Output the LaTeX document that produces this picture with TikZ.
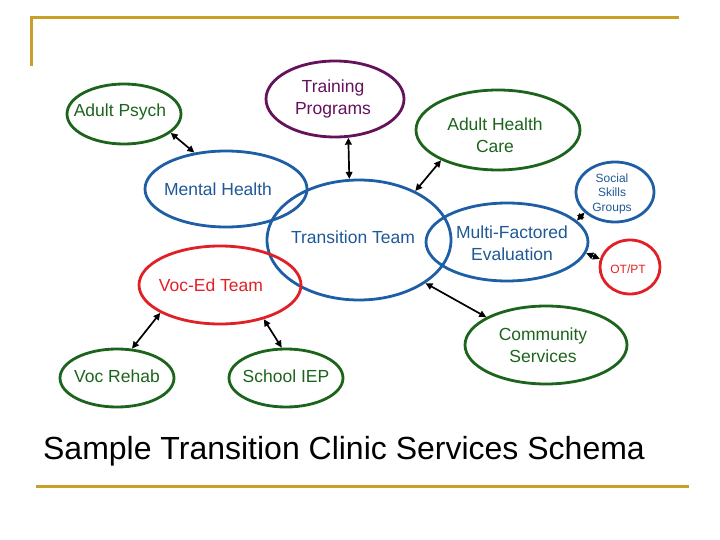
\documentclass[tikz,border=0pt]{standalone}
\usepackage{fontspec}
\setmainfont{Liberation Sans}
\usetikzlibrary{shapes.geometric,arrows.meta}
\definecolor{goldc}{RGB}{200,160,40}
\definecolor{bluec}{RGB}{30,94,165}
\definecolor{bluet}{RGB}{30,88,150}
\definecolor{greenc}{RGB}{28,100,28}
\definecolor{redc}{RGB}{225,32,38}
\definecolor{purplec}{RGB}{100,18,92}
\tikzset{
  ell/.style={ellipse, line width=2.8pt, inner sep=0pt},
  txt/.style={align=center, inner sep=0pt, font=\fontsize{17.5}{22}\selectfont},
  smalltxt/.style={align=center, inner sep=0pt, font=\fontsize{12}{14.5}\selectfont},
  link/.style={line width=1.7pt, {Triangle[length=7pt,width=6.5pt]}-{Triangle[length=7pt,width=6.5pt]}},
  goldline/.style={goldc, line width=3pt}
}
\begin{document}
\begin{tikzpicture}[x=1pt,y=-1pt]
\useasboundingbox (0,0) rectangle (720,540);
% frame lines
\draw[goldline] (31,66) -- (31,18) -- (679,18);
\draw[goldline] (36,486) -- (689,486);
% ellipses
\node[ell, draw=greenc, minimum width=114pt, minimum height=60pt] (ap) at (124,114) {};
\node[ell, draw=purplec, minimum width=138pt, minimum height=76pt] (tp) at (335,99) {};
\node[ell, draw=greenc, minimum width=164pt, minimum height=80pt] (ah) at (498,130) {};
\node[ell, draw=bluec, minimum width=162pt, minimum height=76pt] (mh) at (226,189) {};
\node[ell, draw=bluec, minimum width=184pt, minimum height=120pt] (tt) at (359,240) {};
\node[ell, draw=bluec, minimum width=78pt, minimum height=60pt] (ss) at (615,192) {};
\node[ell, draw=bluec, minimum width=162pt, minimum height=78pt] (mf) at (507,242) {};
\node[ell, draw=redc, minimum width=60pt, minimum height=54pt] (ot) at (630,267) {};
\node[ell, draw=redc, minimum width=162pt, minimum height=78pt] (ve) at (220,285) {};
\node[ell, draw=greenc, minimum width=162pt, minimum height=78pt] (cs) at (546,345) {};
\node[ell, draw=greenc, minimum width=114pt, minimum height=58pt] (vr) at (117,378) {};
\node[ell, draw=greenc, minimum width=114pt, minimum height=58pt] (si) at (286,378) {};
% texts
\node[txt, text=greenc] (apt) at (120,111.5) {Adult Psych};
\node[txt, text=purplec] (tpt) at (333,99) {Training\\Programs};
\node[txt, text=greenc] (aht) at (495,135) {Adult Health\\Care};
\node[txt, text=bluet] (mht) at (218,189.5) {Mental Health};
\node[txt, text=bluet] (ttt) at (353,237.5) {Transition Team};
\node[smalltxt, text=bluet] (sst) at (612,193.5) {Social\\Skills\\Groups};
\node[txt, text=bluet] (mft) at (512,243) {Multi-Factored\\Evaluation};
\node[smalltxt, text=redc] (ott) at (628,269) {OT/PT};
\node[txt, text=redc] (vet) at (211,285.5) {Voc-Ed Team};
\node[txt, text=greenc] (cst) at (543,345) {Community\\Services};
\node[txt, text=greenc] (vrt) at (117,376.5) {Voc Rehab};
\node[txt, text=greenc] (sit) at (286,376.5) {School IEP};
\node[inner sep=0pt, font=\fontsize{32}{38}\selectfont] (title) at (344,451) {Sample Transition Clinic Services Schema};
% connectors
\draw[link] (ap.-22) -- (mh.131);
\draw[link] (tp.-71) -- (tt.99);
\draw[link] (ah.208) -- (tt.41);
\draw[link] (ss.214) -- (mf.17);
\draw[link] (mf.-8) -- (ot.165);
\draw[link] (tt.-33) -- (cs.155);
\draw[link] (ve.205) -- (vr.63);
\draw[link] (ve.-38) -- (si.98);
\end{tikzpicture}
\end{document}
